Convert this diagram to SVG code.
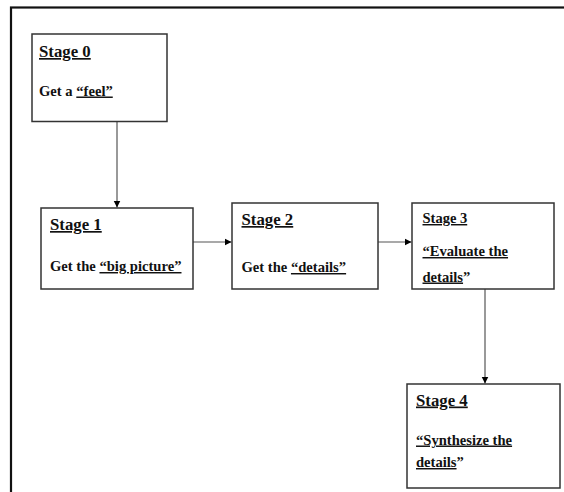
<svg xmlns="http://www.w3.org/2000/svg" width="564" height="492" viewBox="0 0 564 492">
<defs>
<marker id="ah" markerWidth="8" markerHeight="8" refX="7" refY="4" orient="auto" markerUnits="userSpaceOnUse">
<path d="M0,0.5 L7,4 L0,7.5 Z" fill="#000"/>
</marker>
</defs>
<style>
.box{fill:#fff;stroke:#333;stroke-width:1.5}
.t{font-family:"Liberation Serif","Times New Roman",serif;font-weight:bold;fill:#111}
.ti{font-size:16.8px}
.ti3{font-size:14.5px}
.b{font-size:14.6px}
.u{text-decoration:underline;text-decoration-thickness:2px}
.c{stroke:#555;stroke-width:1.2;fill:none;marker-end:url(#ah)}
</style>
<rect x="0" y="0" width="564" height="492" fill="#fff"/>
<rect x="11" y="7.5" width="600" height="600" fill="none" stroke="#111" stroke-width="2.2"/>
<g id="connectors">
<line class="c" x1="117" y1="122" x2="117" y2="207.5"/>
<line class="c" x1="193" y1="242" x2="231.5" y2="242"/>
<line class="c" x1="378" y1="242" x2="411.5" y2="242"/>
<line class="c" x1="485" y1="289" x2="485" y2="383.5"/>
</g>
<g id="stage0">
<rect class="box" x="32" y="34" width="135" height="87.5"/>
<text class="t ti" x="39" y="57"><tspan class="u">Stage 0</tspan></text>
<text class="t b" x="39" y="95.5">Get a <tspan class="u">“feel”</tspan></text>
</g>
<g id="stage1">
<rect class="box" x="41" y="208" width="152" height="81"/>
<text class="t ti" x="50" y="230"><tspan class="u">Stage 1</tspan></text>
<text class="t b" x="50" y="271">Get the <tspan class="u">“big picture”</tspan></text>
</g>
<g id="stage2">
<rect class="box" x="232" y="203" width="146" height="86"/>
<text class="t ti" x="241.5" y="225"><tspan class="u">Stage 2</tspan></text>
<text class="t b" x="241.5" y="272">Get the <tspan class="u">“details”</tspan></text>
</g>
<g id="stage3">
<rect class="box" x="412" y="203" width="142" height="86"/>
<text class="t ti3" x="422.5" y="223"><tspan class="u">Stage 3</tspan></text>
<text class="t b" x="422.5" y="256"><tspan class="u">“Evaluate the </tspan></text>
<text class="t b" x="422.5" y="281.5"><tspan class="u">details</tspan>”</text>
</g>
<g id="stage4">
<rect class="box" x="407" y="384" width="153" height="104"/>
<text class="t ti" x="416" y="405.5"><tspan class="u">Stage 4</tspan></text>
<text class="t b" x="416" y="444.5"><tspan class="u">“Synthesize the </tspan></text>
<text class="t b" x="416" y="467"><tspan class="u">details</tspan>”</text>
</g>
</svg>
